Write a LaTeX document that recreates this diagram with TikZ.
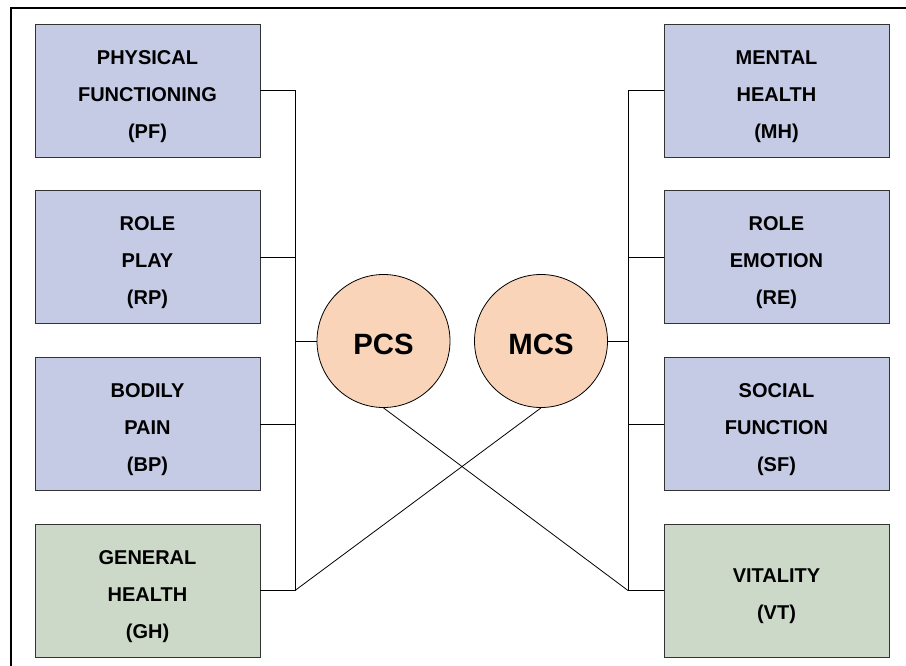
\documentclass[tikz,border=0pt]{standalone}
\usepackage{fontspec}
\setmainfont{Liberation Sans}
\newcommand{\boxlines}[1]{\raisebox{-2.5pt}[\height][\depth]{\begin{tabular}{@{}c@{}}#1\end{tabular}}}
\newcommand{\circtext}[1]{\raisebox{-2.5pt}[\height][\depth]{#1}}
\begin{document}
\begin{tikzpicture}[x=0.75pt,y=-0.75pt,
  box/.style={draw=black!80, line width=0.6pt, minimum width=168.75pt, minimum height=99.75pt, inner sep=0pt, align=center,
    font=\fontsize{15}{27.75}\selectfont\bfseries},
  bluebox/.style={box, fill=boxblue},
  greenbox/.style={box, fill=boxgreen},
  comp/.style={circle, draw=black, line width=0.6pt, fill=peach, minimum size=99.75pt, inner sep=0pt,
    font=\fontsize{22}{24}\selectfont\bfseries},
  conn/.style={draw=black, line width=0.6pt}]
\definecolor{boxblue}{HTML}{C5CAE5}
\definecolor{boxgreen}{HTML}{CDD9C8}
\definecolor{peach}{HTML}{FAD4B9}
\useasboundingbox (0,0) rectangle (906,666);
\draw[line width=1.6pt] (11,666) -- (11,8) -- (906,8);
\node[bluebox] (PF) at (147.5,90.5) {\boxlines{PHYSICAL\\FUNCTIONING\\(PF)}};
\node[bluebox] (RP) at (147.5,257) {\boxlines{ROLE\\PLAY\\(RP)}};
\node[bluebox] (BP) at (147.5,424) {\boxlines{BODILY\\PAIN\\(BP)}};
\node[greenbox] (GH) at (147.5,590.5) {\boxlines{GENERAL\\HEALTH\\(GH)}};
\node[bluebox] (MH) at (776.5,90.5) {\boxlines{MENTAL\\HEALTH\\(MH)}};
\node[bluebox] (RE) at (776.5,257) {\boxlines{ROLE\\EMOTION\\(RE)}};
\node[bluebox] (SF) at (776.5,424) {\boxlines{SOCIAL\\FUNCTION\\(SF)}};
\node[greenbox] (VT) at (776.5,590.5) {\boxlines{VITALITY\\(VT)}};
\node[comp] (PCS) at (383.5,341) {\circtext{PCS}};
\node[comp] (MCS) at (541,341) {\circtext{MCS}};
\coordinate (lbus) at (295,0);
\coordinate (rbus) at (628,0);
\draw[conn] (PF.east) -- (PF.east -| lbus) -- (GH.east -| lbus) -- (GH.east);
\draw[conn] (RP.east) -- (RP.east -| lbus);
\draw[conn] (BP.east) -- (BP.east -| lbus);
\draw[conn] (PCS.west) -- (PCS.west -| lbus);
\draw[conn] (MH.west) -- (MH.west -| rbus) -- (VT.west -| rbus) -- (VT.west);
\draw[conn] (RE.west) -- (RE.west -| rbus);
\draw[conn] (SF.west) -- (SF.west -| rbus);
\draw[conn] (MCS.east) -- (MCS.east -| rbus);
\draw[conn] (PCS.south) -- (VT.west -| rbus);
\draw[conn] (MCS.south) -- (GH.east -| lbus);
\end{tikzpicture}
\end{document}
